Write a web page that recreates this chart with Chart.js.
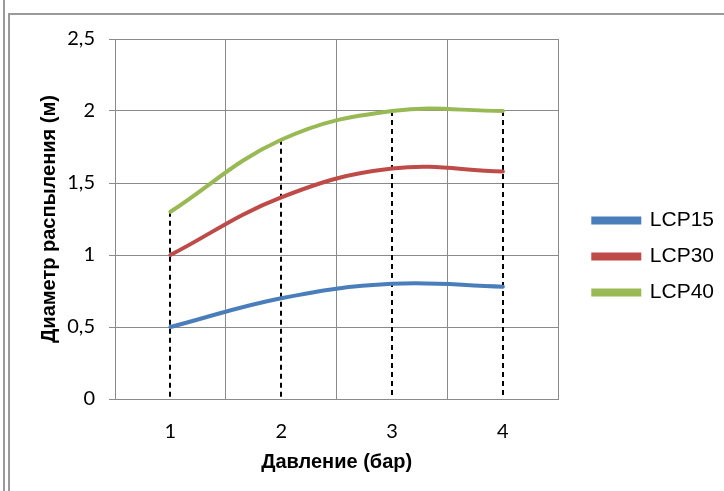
<!DOCTYPE html>
<html>
<head>
<meta charset="utf-8">
<script src="https://cdn.jsdelivr.net/npm/chart.js@4/dist/chart.umd.min.js"></script>
<style>
  html, body { margin: 0; padding: 0; background: #fff; }
  #wrap { position: relative; width: 724px; height: 491px; overflow: hidden; }
  #chart { position: absolute; left: 0; top: 0; }
  .edge { position: absolute; background: #9a9a9a; }
</style>
</head>
<body>
<div id="wrap">
  <canvas id="chart" width="724" height="491"></canvas>
  <div class="edge" style="left:3px;top:0;width:2px;height:491px"></div>
  <div class="edge" style="left:8px;top:14px;width:2px;height:477px"></div>
  <div class="edge" style="left:8px;top:13px;width:716px;height:2px"></div>
</div>
<script>
// pressure (bar) vs spray diameter (m)
const pressures = ['1', '2', '3', '4'];
const lcp15 = [0.5, 0.7, 0.8, 0.78];
const lcp30 = [1.0, 1.4, 1.6, 1.58];
const lcp40 = [1.3, 1.8, 2.0, 2.0];
const seriesNames = ['LCP15', 'LCP30', 'LCP40'];
const seriesColors = ['#4a7ebb', '#be4b48', '#98b954'];

// dashed drop lines from the highest point down to zero
const dropLines = {
    id: 'dropLines',
    beforeDatasetsDraw(chart) {
        const xs = chart.scales.x, ys = chart.scales.y;
        const ctx = chart.ctx;
        ctx.save();
        ctx.strokeStyle = '#000';
        ctx.lineWidth = 2;
        ctx.setLineDash([5, 4]);
        pressures.forEach((p, i) => {
            let top = Math.max(...chart.data.datasets.map(d => d.data[i]));
            let x = Math.round(xs.getPixelForValue(i));
            ctx.beginPath();
            ctx.moveTo(x, ys.getPixelForValue(top));
            ctx.lineTo(x, ys.getPixelForValue(0));
            ctx.stroke();
        });
        ctx.restore();
    }
};

const allSeries = [lcp15, lcp30, lcp40];

new Chart(document.getElementById('chart').getContext('2d'), {
    type: 'line',
    data: {
        labels: pressures,
        datasets: allSeries.map((vals, k) => ({
            label: seriesNames[k],
            data: vals,
            borderColor: seriesColors[k],
            backgroundColor: seriesColors[k],
            borderWidth: 4,
            borderCapStyle: 'round',
            pointRadius: 0,
            tension: 0.4,
            fill: false
        }))
    },
    options: {
        responsive: false,
        animation: false,
        devicePixelRatio: 1,
        layout: { padding: { left: 10, top: 39, right: 0, bottom: 17 } },
        plugins: {
            tooltip: { enabled: false },
            legend: {
                position: 'right',
                maxWidth: 220,
                labels: {
                    boxWidth: 46,
                    boxHeight: 4,
                    padding: 15,
                    color: '#000',
                    font: { family: 'Liberation Sans', size: 21 }
                }
            }
        },
        scales: {
            x: {
                offset: true,
                grid: { offset: true, color: '#8a8a8a', drawTicks: false },
                border: { color: '#8a8a8a' },
                ticks: { padding: 21, color: '#000', font: { family: 'Lato', size: 20 } },
                title: {
                    display: true,
                    text: 'Давление (бар)',
                    color: '#000',
                    padding: { top: 7, bottom: 0 },
                    font: { family: 'Liberation Sans', size: 20, weight: 'bold' }
                },
                afterFit: s => { s.height = 75; }
            },
            y: {
                min: 0,
                max: 2.5,
                grid: { color: '#8a8a8a', tickLength: 6 },
                border: { color: '#8a8a8a' },
                ticks: {
                    stepSize: 0.5,
                    padding: 14,
                    color: '#000',
                    font: { family: 'Lato', size: 20 },
                    callback: v => String(v).replace('.', ',')
                },
                title: {
                    display: true,
                    text: 'Диаметр распыления (м)',
                    color: '#000',
                    padding: { top: 27, bottom: 9 },
                    font: { family: 'Liberation Sans', size: 20, weight: 'bold' }
                },
                afterFit: s => { s.width = 105; }
            },
            // empty spacer between plot and legend
            gap: {
                type: 'linear',
                position: 'right',
                display: true,
                grid: { display: false },
                border: { display: false },
                ticks: { display: false },
                afterFit: s => { s.width = 20; }
            }
        }
    },
    plugins: [dropLines]
});
</script>
</body>
</html>
